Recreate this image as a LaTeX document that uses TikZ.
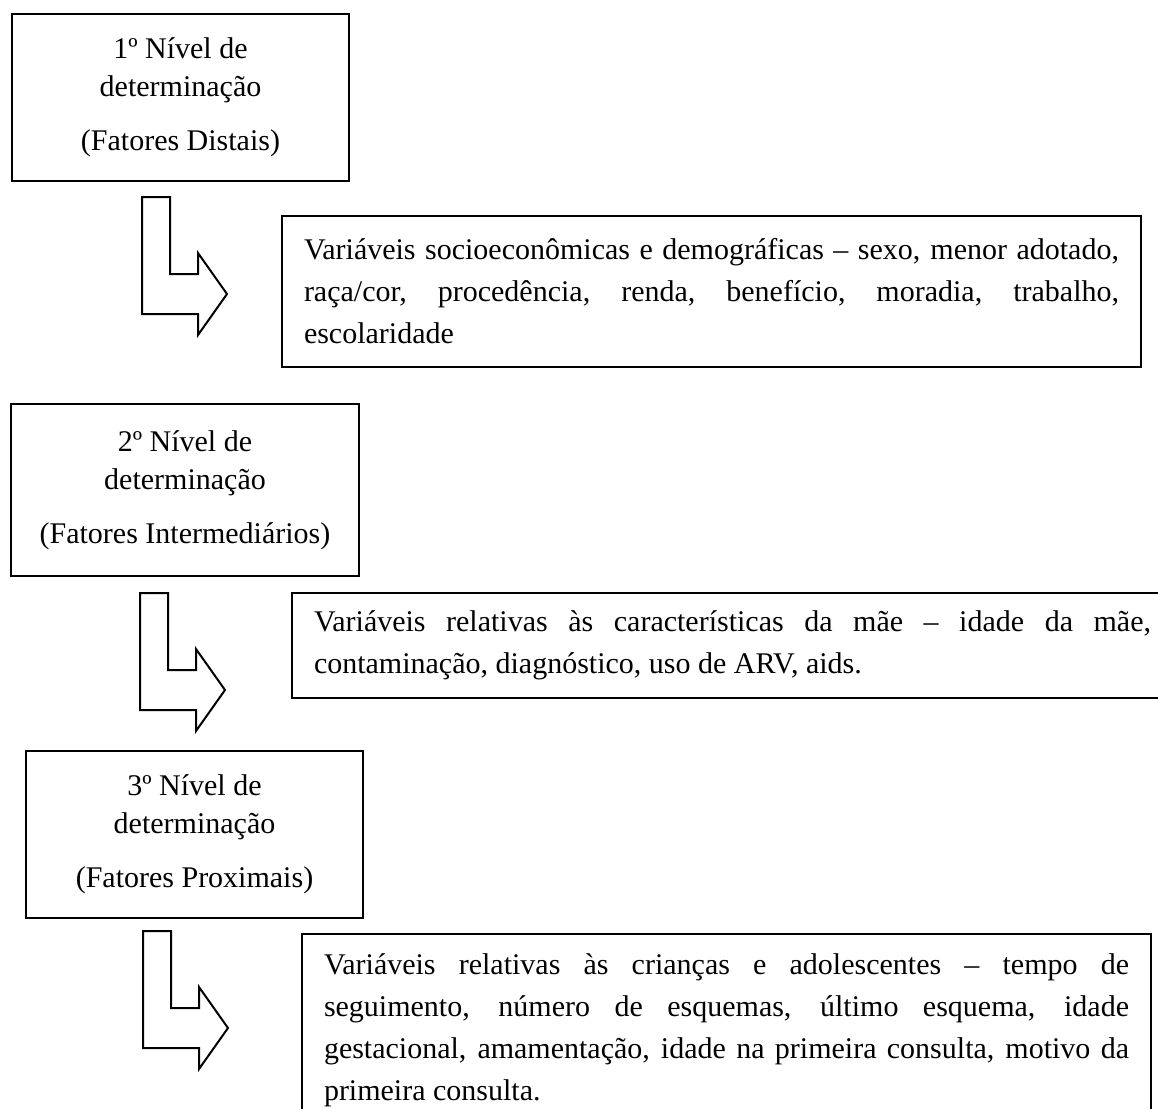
\documentclass[tikz,border=0pt]{standalone}
\usepackage{fontspec}
\setmainfont{Liberation Serif}
\usetikzlibrary{positioning}

\begin{document}
\begin{tikzpicture}[
  x=0.5pt, y=-0.5pt,
  font=\fontsize{15pt}{19pt}\selectfont,
  level/.style={rectangle, draw, line width=1pt, anchor=north west, align=center, inner sep=0pt},
  varbox/.style={rectangle, draw, line width=1pt, anchor=north west, align=justify, inner xsep=11pt, font=\fontsize{15pt}{21pt}\selectfont},
  larrow/.pic={\draw[line width=1pt] (0,0) -- (28,0) -- (28,77) -- (56,77) -- (56,56) -- (85,97) -- (56,138) -- (56,117) -- (0,117) -- cycle;}
]
\useasboundingbox (0,0) rectangle (1158,1109);
% Levels of determination
\node[level, minimum width=168.5pt, minimum height=83.5pt] (lvl1) at (11,13) {1º Nível de\\determinação\\[8pt](Fatores Distais)};
\node[level, minimum width=174pt, minimum height=86pt] (lvl2) at (10,403) {2º Nível de\\determinação\\[8pt](Fatores Intermediários)};
\node[level, minimum width=168.5pt, minimum height=83.5pt] (lvl3) at (25,750) {3º Nível de\\determinação\\[8pt](Fatores Proximais)};
% Variables of each level
\node[varbox, text width=407.5pt, minimum height=75.5pt] (socio) at (281,215) {Variáveis socioeconômicas e demográficas – sexo, menor adotado,\linebreak raça/cor, procedência, renda, benefício, moradia, trabalho,\linebreak escolaridade};
\node[varbox, text width=418.5pt, minimum height=52.5pt] (mae) at (291,592) {Variáveis relativas às características da mãe – idade da mãe,\linebreak contaminação, diagnóstico, uso de ARV, aids.};
\node[varbox, text width=402.5pt, inner ysep=10pt] (crianca) at (301,933) {Variáveis relativas às crianças e adolescentes – tempo de\linebreak seguimento, número de esquemas, último esquema, idade\linebreak gestacional, amamentação, idade na primeira consulta, motivo da\linebreak primeira consulta.};
% L-shaped arrows
\pic at (142,197) {larrow};
\pic at (140,593) {larrow};
\pic at (143,931) {larrow};
\end{tikzpicture}
\end{document}
